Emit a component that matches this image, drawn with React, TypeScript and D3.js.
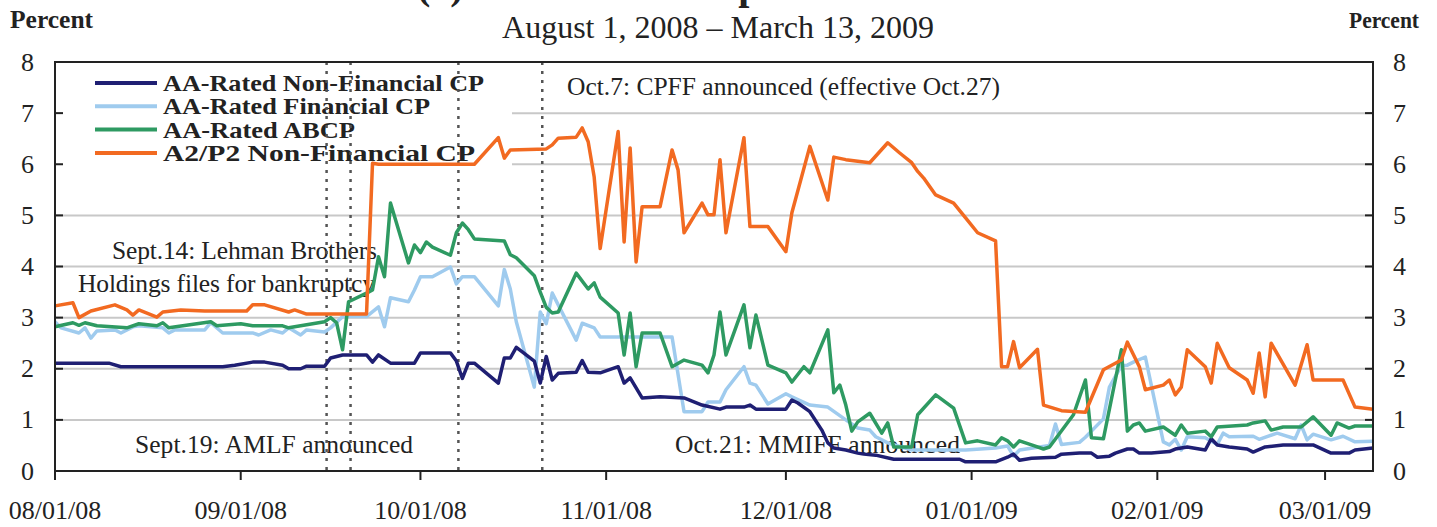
import React from "react";
import * as d3 from "d3";

const navyNonFinancial: [string, number][] = [
  ["08/01/08",2.11],["08/10/08",2.11],["08/12/08",2.04],["08/29/08",2.04],["08/31/08",2.07],["09/03/08",2.13],["09/05/08",2.13],["09/08/08",2.07],["09/09/08",2.00],["09/11/08",2.00],["09/12/08",2.05],["09/15/08",2.05],["09/16/08",2.21],["09/18/08",2.27],["09/22/08",2.27],["09/23/08",2.13],["09/24/08",2.27],["09/26/08",2.11],["09/30/08",2.11],["10/01/08",2.31],["10/06/08",2.31],["10/07/08",2.15],["10/08/08",1.81],["10/09/08",2.11],["10/10/08",2.11],["10/14/08",1.72],["10/15/08",2.21],["10/16/08",2.21],["10/17/08",2.42],["10/18/08",2.33],["10/20/08",2.15],["10/21/08",1.72],["10/22/08",2.24],["10/23/08",1.78],["10/24/08",1.91],["10/27/08",1.93],["10/28/08",2.16],["10/29/08",1.93],["10/31/08",1.92],["11/03/08",2.04],["11/04/08",1.72],["11/05/08",1.82],["11/07/08",1.43],["11/10/08",1.45],["11/14/08",1.43],["11/17/08",1.29],["11/20/08",1.21],["11/21/08",1.25],["11/24/08",1.25],["11/25/08",1.29],["11/26/08",1.21],["12/01/08",1.21],["12/02/08",1.39],["12/03/08",1.33],["12/05/08",1.16],["12/07/08",0.80],["12/08/08",0.55],["12/09/08",0.45],["12/11/08",0.41],["12/13/08",0.35],["12/14/08",0.33],["12/16/08",0.31],["12/19/08",0.23],["12/30/08",0.23],["12/31/08",0.18],["01/05/09",0.18],["01/07/09",0.27],["01/08/09",0.33],["01/09/09",0.21],["01/11/09",0.25],["01/15/09",0.27],["01/16/09",0.33],["01/19/09",0.35],["01/21/09",0.35],["01/22/09",0.27],["01/24/09",0.29],["01/25/09",0.35],["01/27/09",0.43],["01/28/09",0.43],["01/29/09",0.35],["01/31/09",0.35],["02/03/09",0.38],["02/04/09",0.43],["02/06/09",0.47],["02/09/09",0.41],["02/10/09",0.63],["02/11/09",0.51],["02/13/09",0.47],["02/16/09",0.43],["02/17/09",0.37],["02/19/09",0.47],["02/22/09",0.51],["02/27/09",0.51],["03/02/09",0.35],["03/05/09",0.35],["03/06/09",0.41],["03/09/09",0.45]
];

const lightBlueFinancial: [string, number][] = [
  ["08/01/08",2.92],["08/02/08",2.80],["08/05/08",2.70],["08/06/08",2.80],["08/07/08",2.60],["08/08/08",2.74],["08/11/08",2.76],["08/12/08",2.70],["08/14/08",2.82],["08/15/08",2.84],["08/19/08",2.80],["08/20/08",2.70],["08/21/08",2.76],["08/26/08",2.76],["08/27/08",2.90],["08/29/08",2.70],["09/03/08",2.70],["09/04/08",2.66],["09/06/08",2.76],["09/08/08",2.70],["09/09/08",2.80],["09/11/08",2.66],["09/12/08",2.76],["09/15/08",2.72],["09/16/08",2.80],["09/18/08",3.02],["09/22/08",3.02],["09/24/08",3.21],["09/25/08",2.82],["09/26/08",3.39],["09/29/08",3.31],["09/30/08",3.54],["10/01/08",3.80],["10/03/08",3.80],["10/06/08",3.99],["10/07/08",3.66],["10/08/08",3.80],["10/10/08",3.80],["10/14/08",3.23],["10/15/08",3.94],["10/16/08",3.56],["10/17/08",2.92],["10/20/08",1.64],["10/21/08",3.11],["10/22/08",2.88],["10/23/08",3.48],["10/27/08",2.56],["10/28/08",2.89],["10/30/08",2.80],["10/31/08",2.62],["11/12/08",2.62],["11/14/08",1.16],["11/17/08",1.16],["11/18/08",1.35],["11/20/08",1.35],["11/21/08",1.59],["11/24/08",2.04],["11/25/08",1.72],["11/26/08",1.68],["11/28/08",1.31],["12/01/08",1.51],["12/02/08",1.45],["12/05/08",1.29],["12/08/08",1.25],["12/11/08",1.00],["12/13/08",0.84],["12/15/08",0.80],["12/16/08",0.67],["12/18/08",0.55],["12/22/08",0.41],["12/31/08",0.41],["01/05/09",0.45],["01/07/09",0.49],["01/08/09",0.29],["01/09/09",0.41],["01/14/09",0.50],["01/15/09",0.92],["01/16/09",0.52],["01/19/09",0.56],["01/20/09",0.66],["01/23/09",1.02],["01/24/09",1.64],["01/26/09",2.06],["01/27/09",2.07],["01/28/09",2.13],["01/30/09",2.23],["02/02/09",0.57],["02/03/09",0.51],["02/04/09",0.62],["02/05/09",0.41],["02/06/09",0.67],["02/09/09",0.65],["02/11/09",0.52],["02/12/09",0.74],["02/13/09",0.67],["02/17/09",0.68],["02/18/09",0.62],["02/21/09",0.74],["02/24/09",0.63],["02/25/09",0.90],["02/26/09",0.61],["02/27/09",0.72],["03/02/09",0.61],["03/04/09",0.68],["03/06/09",0.57],["03/09/09",0.58]
];

const greenABCP: [string, number][] = [
  ["08/01/08",2.82],["08/04/08",2.90],["08/05/08",2.85],["08/06/08",2.90],["08/08/08",2.84],["08/13/08",2.80],["08/15/08",2.88],["08/18/08",2.84],["08/19/08",2.90],["08/20/08",2.80],["08/27/08",2.92],["08/28/08",2.84],["09/01/08",2.88],["09/03/08",2.84],["09/08/08",2.84],["09/09/08",2.80],["09/14/08",2.90],["09/15/08",2.92],["09/16/08",3.00],["09/17/08",2.90],["09/18/08",2.37],["09/19/08",3.31],["09/22/08",3.48],["09/23/08",3.54],["09/24/08",4.19],["09/25/08",3.80],["09/26/08",5.24],["09/29/08",4.07],["09/30/08",4.42],["10/01/08",4.27],["10/02/08",4.48],["10/03/08",4.38],["10/06/08",4.22],["10/07/08",4.66],["10/08/08",4.85],["10/09/08",4.72],["10/10/08",4.54],["10/15/08",4.50],["10/16/08",4.23],["10/17/08",4.17],["10/20/08",3.82],["10/21/08",3.50],["10/22/08",3.20],["10/23/08",3.09],["10/24/08",3.11],["10/27/08",3.87],["10/29/08",3.56],["10/30/08",3.68],["10/31/08",3.40],["11/03/08",3.09],["11/04/08",2.27],["11/05/08",3.09],["11/06/08",2.04],["11/07/08",2.70],["11/10/08",2.70],["11/12/08",2.04],["11/14/08",2.17],["11/17/08",2.07],["11/18/08",1.92],["11/19/08",2.27],["11/20/08",3.11],["11/21/08",2.27],["11/24/08",3.25],["11/25/08",2.41],["11/26/08",3.05],["11/28/08",2.07],["12/01/08",1.92],["12/02/08",1.74],["12/04/08",2.04],["12/05/08",1.92],["12/08/08",2.76],["12/09/08",1.53],["12/10/08",1.68],["12/11/08",1.29],["12/12/08",0.78],["12/13/08",0.96],["12/15/08",1.13],["12/17/08",0.74],["12/18/08",0.94],["12/19/08",0.47],["12/22/08",0.47],["12/23/08",1.10],["12/26/08",1.49],["12/29/08",1.23],["12/31/08",0.55],["01/02/09",0.59],["01/05/09",0.51],["01/06/09",0.65],["01/07/09",0.59],["01/08/09",0.47],["01/09/09",0.59],["01/11/09",0.51],["01/13/09",0.43],["01/14/09",0.47],["01/18/09",1.10],["01/20/09",1.78],["01/21/09",0.65],["01/23/09",0.63],["01/26/09",2.37],["01/27/09",0.78],["01/28/09",0.90],["01/29/09",0.94],["01/30/09",0.78],["02/02/09",0.86],["02/04/09",0.70],["02/05/09",0.90],["02/06/09",0.74],["02/09/09",0.78],["02/10/09",0.67],["02/11/09",0.86],["02/16/09",0.90],["02/17/09",0.94],["02/19/09",0.98],["02/20/09",0.80],["02/22/09",0.86],["02/25/09",0.86],["02/27/09",1.06],["03/02/09",0.70],["03/03/09",0.94],["03/05/09",0.84],["03/06/09",0.88],["03/09/09",0.88]
];

const orangeA2P2: [string, number][] = [
  ["08/01/08",3.23],["08/04/08",3.29],["08/05/08",3.00],["08/07/08",3.13],["08/11/08",3.25],["08/13/08",3.15],["08/14/08",3.05],["08/15/08",3.15],["08/18/08",3.01],["08/19/08",3.11],["08/22/08",3.15],["08/26/08",3.13],["09/02/08",3.13],["09/03/08",3.25],["09/05/08",3.25],["09/09/08",3.11],["09/10/08",3.15],["09/12/08",3.07],["09/22/08",3.07],["09/23/08",6.02],["09/24/08",6.00],["10/10/08",6.00],["10/14/08",6.52],["10/15/08",6.12],["10/16/08",6.28],["10/22/08",6.30],["10/23/08",6.38],["10/24/08",6.51],["10/27/08",6.53],["10/28/08",6.71],["10/29/08",6.44],["10/30/08",5.75],["10/31/08",4.35],["11/03/08",6.64],["11/04/08",4.48],["11/05/08",6.32],["11/06/08",4.09],["11/07/08",5.17],["11/10/08",5.17],["11/12/08",6.28],["11/13/08",5.89],["11/14/08",4.66],["11/17/08",5.24],["11/18/08",5.01],["11/19/08",5.01],["11/20/08",6.09],["11/21/08",4.66],["11/24/08",6.52],["11/25/08",4.78],["11/28/08",4.78],["12/01/08",4.29],["12/02/08",5.05],["12/05/08",6.35],["12/08/08",5.30],["12/09/08",6.14],["12/11/08",6.09],["12/15/08",6.03],["12/18/08",6.42],["12/20/08",6.22],["12/22/08",6.03],["12/23/08",5.86],["12/24/08",5.73],["12/26/08",5.40],["12/29/08",5.24],["12/31/08",4.95],["01/02/09",4.66],["01/05/09",4.50],["01/06/09",2.04],["01/07/09",2.04],["01/08/09",2.53],["01/09/09",2.02],["01/12/09",2.38],["01/13/09",1.29],["01/16/09",1.18],["01/20/09",1.15],["01/23/09",1.98],["01/26/09",2.17],["01/27/09",2.52],["01/29/09",2.04],["01/30/09",1.59],["02/02/09",1.68],["02/03/09",1.78],["02/04/09",1.49],["02/05/09",1.64],["02/06/09",2.37],["02/09/09",2.04],["02/10/09",1.72],["02/11/09",2.50],["02/13/09",2.02],["02/16/09",1.78],["02/17/09",1.52],["02/18/09",2.31],["02/19/09",1.45],["02/20/09",2.50],["02/24/09",1.68],["02/26/09",2.47],["02/27/09",1.78],["03/04/09",1.78],["03/06/09",1.25],["03/09/09",1.21]
];

const seriesNames = [
  "AA-Rated Non-Financial CP",
  "AA-Rated Financial CP",
  "AA-Rated ABCP",
  "A2/P2 Non-Financial CP",
];
const seriesColors = ["#1f1f73", "#9fcbee", "#2e9a62", "#f26a21"];
const yTicks = [0, 1, 2, 3, 4, 5, 6, 7, 8];
const eventDates = ["09/15/08", "09/19/08", "10/07/08", "10/21/08"];
const xStart = "08/01/08";
const xEnd = "03/09/09";

const SERIF = "'Liberation Serif', 'Times New Roman', Times, serif";

export default function App() {
  const parse = d3.timeParse("%m/%d/%y");
  const fmt = d3.timeFormat("%m/%d/%y");
  const W = 1437, H = 527;
  const left = 55, right = 1373, top = 62, bottom = 471;

  const x = d3.scaleTime().domain([parse(xStart)!, parse(xEnd)!]).range([left, right]);
  const y = d3.scaleLinear().domain([0, 8]).range([bottom, top]);
  const monthTicks = d3.timeMonth.range(parse(xStart)!, d3.timeDay.offset(parse(xEnd)!, 1));

  const line = d3
    .line<[string, number]>()
    .x((d) => x(parse(d[0])!))
    .y((d) => y(d[1]));

  const allSeries = [navyNonFinancial, lightBlueFinancial, greenABCP, orangeA2P2];
  const drawOrder = [1, 0, 2, 3];
  const legendWidths = [321, 267, 192, 312];

  return (
    <svg width={W} height={H} style={{ position: "absolute", left: 0, top: 0, background: "#fff" }} fontFamily={SERIF}>
      <rect x={0} y={0} width={W} height={H} fill="#fff" />
      {/* main title line, clipped by the top edge as in the source */}
      <text x={417} y={-1.5} fontSize={40} fontWeight="bold" fill="#222">(a) Commercial Paper Interest Rates</text>
      <text x={718} y={38} fontSize={32} textAnchor="middle" fill="#222">August 1, 2008 – March 13, 2009</text>
      <text x={10} y={28} fontSize={25.5} fontWeight="bold" fill="#222">Percent</text>
      <text x={1349} y={28} fontSize={24} fontWeight="bold" fill="#222" textLength={70} lengthAdjust="spacingAndGlyphs">Percent</text>

      {/* gridlines */}
      {yTicks.filter((t) => t > 0 && t < 8).map((t) => (
        <line key={"g" + t} x1={left} x2={right} y1={y(t)} y2={y(t)} stroke="#c8c8c8" strokeWidth={2} />
      ))}
      {/* legend background */}
      <rect x={left + 1} y={top + 1} width={512 - left - 1} height={126} fill="#fff" />

      {/* annotations */}
      <g fontSize={25.5} fill="#222">
        <text x={567} y={95}>Oct.7: CPFF announced (effective Oct.27)</text>
        <text x={112} y={259} textLength={265}>Sept.14: Lehman Brothers</text>
        <text x={78} y={292} textLength={297}>Holdings files for bankruptcy</text>
        <text x={135} y={453} textLength={278}>Sept.19: AMLF announced</text>
        <text x={675} y={453} textLength={285}>Oct.21: MMIFF announced</text>
      </g>

      {/* legend */}
      {seriesNames.map((n, i) => (
        <g key={n}>
          <line x1={95} x2={157} y1={83 + i * 23.3} y2={83 + i * 23.3} stroke={seriesColors[i]} strokeWidth={4} />
          <text x={163} y={91 + i * 23.3} fontSize={24} fontWeight="bold" fill="#222" textLength={legendWidths[i]} lengthAdjust="spacingAndGlyphs">{n}</text>
        </g>
      ))}

      {/* event lines */}
      {eventDates.map((d) => (
        <line key={d} x1={x(parse(d)!) + 2} x2={x(parse(d)!) + 2} y1={top} y2={bottom} stroke="#555" strokeWidth={2.5} strokeDasharray="3,6" />
      ))}

      {/* series */}
      {drawOrder.map((i) => (
        <path key={seriesNames[i]} d={line(allSeries[i]) || ""} fill="none" stroke={seriesColors[i]} strokeWidth={3.5} strokeLinejoin="round" />
      ))}

      {/* frame */}
      <rect x={left} y={top} width={right - left} height={bottom - top} fill="none" stroke="#222" strokeWidth={2} />

      {/* y ticks and labels */}
      {yTicks.map((t) => (
        <g key={"y" + t}>
          <line x1={left} x2={left + 8} y1={y(t)} y2={y(t)} stroke="#222" strokeWidth={2} />
          <line x1={right - 8} x2={right} y1={y(t)} y2={y(t)} stroke="#222" strokeWidth={2} />
          <text x={34} y={y(t)} dy="0.33em" fontSize={26} textAnchor="end" fill="#222">{t}</text>
          <text x={1393} y={y(t)} dy="0.33em" fontSize={26} textAnchor="start" fill="#222">{t}</text>
        </g>
      ))}

      {/* x ticks and labels */}
      {monthTicks.map((m) => (
        <g key={m.toISOString()}>
          <line x1={x(m)} x2={x(m)} y1={bottom} y2={bottom + 9} stroke="#222" strokeWidth={2} />
          <text x={x(m)} y={519} fontSize={26} textAnchor="middle" fill="#222">{fmt(m)}</text>
        </g>
      ))}
    </svg>
  );
}
